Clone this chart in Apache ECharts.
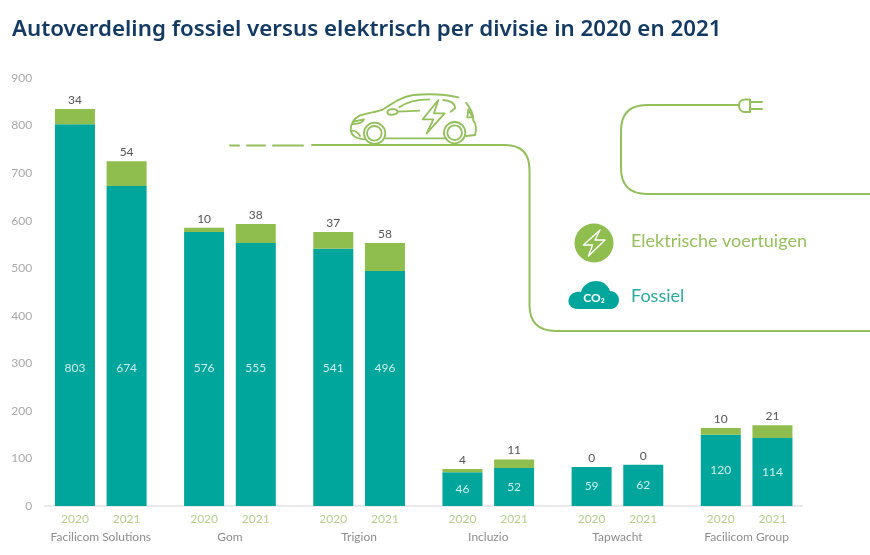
<!DOCTYPE html>
<html>
<head>
<meta charset="utf-8">
<title>Autoverdeling</title>
<script src="https://cdn.jsdelivr.net/npm/echarts@6/dist/echarts.min.js"></script>
<style>
  html, body { margin: 0; background: #fff; }
  #chart { width: 870px; height: 555px; }
</style>
</head>
<body>
<div id="chart"></div>
<script>
const divisions = ['Facilicom Solutions', 'Gom', 'Trigion', 'Incluzio', 'Tapwacht', 'Facilicom Group']
const years = ['2020', '2021']

// bar heights as drawn, the printed numbers do not always agree with them
const fossilBars = [803, 673, 576, 553, 541, 494, 71, 80, 82, 87, 150, 143]
const electricBars = [32, 52, 9, 40, 35, 59, 7, 18, 0, 0, 14, 27]
const fossilLabels = [803, 674, 576, 555, 541, 496, 46, 52, 59, 62, 120, 114]
const electricLabels = [34, 54, 10, 38, 37, 58, 4, 11, 0, 0, 10, 21]

const legendNames = ['Elektrische voertuigen', 'Fossiel']

const TEAL = '#00a59b'
const GREEN = '#8fbe4f'
const LINE = '#93bf5c'
const FONT = 'Lato'

// every group is five slots wide: blank, 2020, blank, 2021, blank
const slots = arr => arr.flatMap((v, i) => i % 2 === 0 ? [null, v, null] : [v, null])
const yearSlots = slots(divisions.flatMap(() => years)).map(v => v === null ? '' : v)
const labelIndex = slot => Math.floor(slot / 5) * 2 + (slot % 5 === 1 ? 0 : 1)

const fossilAnchor = fossilBars.map(h => h > 300 ? 290 : h / 2)

// the graphic component has no plain path type, so register each svg path as a shape
let shapeCount = 0
const pathGraphic = (d, style) => {
  const type = 'svgPath' + shapeCount++
  echarts.graphic.registerShape(type, echarts.graphic.extendPath(d, {}))
  return { type, style, silent: true }
}
const lineStyle = lineWidth => ({ fill: 'none', stroke: LINE, lineWidth, lineCap: 'round', lineJoin: 'round' })

const car = {
  type: 'group',
  x: 220,
  y: 80,
  scaleX: 1 / 3,
  scaleY: 1 / 3,
  silent: true,
  children: [
    'M432 178 C408 176 394 168 392 150 C392 132 402 116 420 106 C445 98 470 96 490 88 C520 68 545 50 580 45 C625 41 680 44 715 52',
    'M738 68 C750 82 760 100 760 122 C768 130 770 150 765 165 L738 168',
    'M497 175 L672 175',
    'M538 82 C560 66 585 58 628 58',
    'M670 60 C695 62 705 72 706 84 L692 95',
    'M534 95 L598 92 M534 95 C530 106 504 108 502 97 C502 88 528 82 534 95',
    'M655 60 L608 118 L640 118 L620 160 L674 100 L642 100 Z',
    'M400 125 L432 118 C428 130 410 132 398 132',
    'M396 152 C406 152 416 160 420 168',
    'M745 88 L758 112 L742 112 Z',
    'M432 160 A32 32 0 1 1 496 160 A32 32 0 1 1 432 160 Z',
    'M441 160 A22 22 0 1 1 485 160 A22 22 0 1 1 441 160 Z',
    'M672 158 A32 32 0 1 1 736 158 A32 32 0 1 1 672 158 Z',
    'M682 158 A22 22 0 1 1 726 158 A22 22 0 1 1 682 158 Z'
  ].map(d => pathGraphic(d, lineStyle(5.5)))
}

const graphic = [
  // road
  pathGraphic('M230 145.5 L239 145.5 M247 145.5 L265 145.5 M273 145.5 L303 145.5', lineStyle(2)),
  pathGraphic('M312 145 L505 145 Q529.5 145 529.5 170 L529.5 305 Q529.5 331 556 331 L870 331', lineStyle(2)),
  // cable
  pathGraphic('M738 105 L647 105 Q621 105 621 131 L621 168 Q621 194 647 194 L870 194', lineStyle(2)),
  pathGraphic('M750 99.5 L745 99.5 C737 99.5 737 112 745 112 L750 112 Z M750 102 L762 102 M750 109 L762 109', lineStyle(2)),
  car,
  // legend
  { type: 'circle', shape: { cx: 594, cy: 243, r: 19.5 }, style: { fill: GREEN }, silent: true },
  pathGraphic('M600 230 L583.5 245 L592.5 245 L588.5 256 L605 240 L595 240 Z', { fill: 'none', stroke: '#fff', lineWidth: 1.4, lineJoin: 'round' }),
  pathGraphic('M578 309 C570 309 567 303 569 298 C571 293 576 291 581 292 C583 285 589 281 596 281 C603 281 608 285 610 291 C615 291 619 295 619 300 C619 305 615 309 611 309 Z', { fill: TEAL }),
  {
    type: 'text',
    x: 594,
    y: 298,
    style: { text: 'CO₂', fill: '#fff', font: '700 12px ' + FONT, textAlign: 'center', textVerticalAlign: 'middle' },
    silent: true
  },
  {
    type: 'text',
    x: 631,
    y: 241,
    style: { text: legendNames[0], fill: '#97c05c', font: '400 18px ' + FONT, textVerticalAlign: 'middle' },
    silent: true
  },
  {
    type: 'text',
    x: 631,
    y: 296,
    style: { text: legendNames[1], fill: '#2aa9a0', font: '400 18px ' + FONT, textVerticalAlign: 'middle' },
    silent: true
  },
  // axis base line, shorter than the plot area
  {
    type: 'line',
    shape: { x1: 44, y1: 506, x2: 803, y2: 506 },
    style: { stroke: '#d5d5da', lineWidth: 1 },
    silent: true
  }
]

const chart = echarts.init(document.getElementById('chart'))

chart.setOption({
  animation: false,
  backgroundColor: '#fff',
  textStyle: { fontFamily: FONT },
  title: {
    text: 'Autoverdeling fossiel versus elektrisch per divisie in 2020 en 2021',
    left: 7,
    top: 14,
    textStyle: { color: '#123a63', fontSize: 22.3, fontWeight: 600, fontFamily: 'Noto Sans' }
  },
  grid: { left: 36.2, top: 78, width: 775, height: 428 },
  xAxis: [{
    type: 'category',
    data: yearSlots,
    axisLine: { show: false },
    axisTick: { show: false },
    axisLabel: { interval: 0, color: '#b6cf8e', fontSize: 12, margin: 7 }
  }, {
    type: 'category',
    position: 'bottom',
    offset: 18,
    data: divisions,
    axisLine: { show: false },
    axisTick: { show: false },
    axisLabel: { interval: 0, color: '#8d8d8d', fontSize: 12, margin: 7 }
  }],
  yAxis: {
    type: 'value',
    min: 0,
    max: 900,
    interval: 100,
    axisLine: { show: false },
    axisTick: { show: false },
    splitLine: { show: false },
    axisLabel: { color: '#a9a9a9', fontSize: 12, margin: 4 }
  },
  series: [{
    name: legendNames[1],
    type: 'bar',
    stack: 'auto',
    barWidth: 40,
    itemStyle: { color: TEAL },
    data: slots(fossilBars)
  }, {
    name: legendNames[0],
    type: 'bar',
    stack: 'auto',
    barWidth: 40,
    itemStyle: { color: GREEN },
    label: {
      show: true,
      position: 'top',
      distance: 3,
      color: '#555',
      fontSize: 12,
      formatter: p => electricLabels[labelIndex(p.dataIndex)]
    },
    data: slots(electricBars)
  }, {
    // invisible anchors that carry the white numbers inside the bars
    name: 'labels',
    type: 'scatter',
    symbolSize: 1,
    silent: true,
    itemStyle: { color: 'transparent' },
    label: {
      show: true,
      position: 'inside',
      color: '#fff',
      fontSize: 12,
      formatter: p => fossilLabels[labelIndex(p.dataIndex)]
    },
    data: slots(fossilAnchor)
  }],
  graphic: graphic
})
</script>
</body>
</html>
